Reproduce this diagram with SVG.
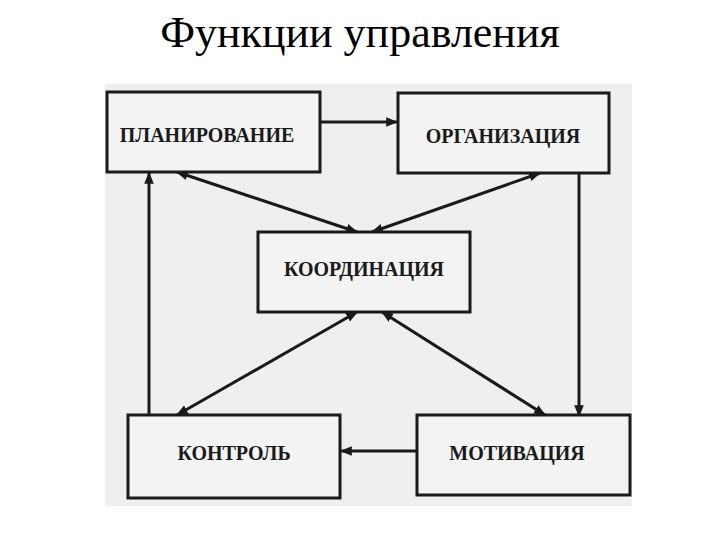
<svg xmlns="http://www.w3.org/2000/svg" width="720" height="540" viewBox="0 0 720 540">
<defs>
<style>
.box{fill:#f3f3f3;stroke:#1a1a1a;stroke-width:3}
.lbl{font-family:"Liberation Serif","Times New Roman",serif;font-weight:bold;font-size:20px;fill:#1a1a1a;text-anchor:middle}
.con{stroke:#1a1a1a;stroke-width:3;fill:none}
.title{font-family:"Liberation Serif","Times New Roman",serif;font-size:44px;fill:#000;text-anchor:middle}
</style>
<marker id="ah" viewBox="0 0 10 10" refX="9" refY="5" markerWidth="4" markerHeight="4" orient="auto-start-reverse" markerUnits="strokeWidth">
<path d="M0,1 L10,5 L0,9 Z" fill="#1a1a1a"/>
</marker>
</defs>
<rect width="720" height="540" fill="#ffffff"/>
<text class="title" x="360" y="47">Функции управления</text>
<rect x="105" y="84" width="527" height="422" fill="#efefef"/>
<g id="connectors">
<line class="con" x1="320" y1="122" x2="397" y2="122" marker-end="url(#ah)"/>
<line class="con" x1="177" y1="172" x2="357" y2="232" marker-start="url(#ah)" marker-end="url(#ah)"/>
<line class="con" x1="540" y1="173" x2="372" y2="232" marker-start="url(#ah)" marker-end="url(#ah)"/>
<line class="con" x1="357" y1="312" x2="177" y2="415" marker-start="url(#ah)" marker-end="url(#ah)"/>
<line class="con" x1="382" y1="312" x2="545" y2="415" marker-start="url(#ah)" marker-end="url(#ah)"/>
<line class="con" x1="149" y1="415" x2="149" y2="173" marker-end="url(#ah)"/>
<line class="con" x1="579" y1="173" x2="579" y2="416" marker-end="url(#ah)"/>
<line class="con" x1="417" y1="451" x2="341" y2="451" marker-end="url(#ah)"/>
</g>
<g id="planning"><rect class="box" x="107" y="92" width="213" height="80"/><text class="lbl" x="207" y="142">ПЛАНИРОВАНИЕ</text></g>
<g id="organization"><rect class="box" x="398" y="93" width="211" height="80"/><text class="lbl" x="503" y="143">ОРГАНИЗАЦИЯ</text></g>
<g id="coordination"><rect class="box" x="258" y="232" width="212" height="80"/><text class="lbl" x="364" y="276">КООРДИНАЦИЯ</text></g>
<g id="control"><rect class="box" x="128" y="415" width="212" height="83"/><text class="lbl" x="234" y="460">КОНТРОЛЬ</text></g>
<g id="motivation"><rect class="box" x="417" y="415" width="213" height="80"/><text class="lbl" x="517" y="460">МОТИВАЦИЯ</text></g>
</svg>
